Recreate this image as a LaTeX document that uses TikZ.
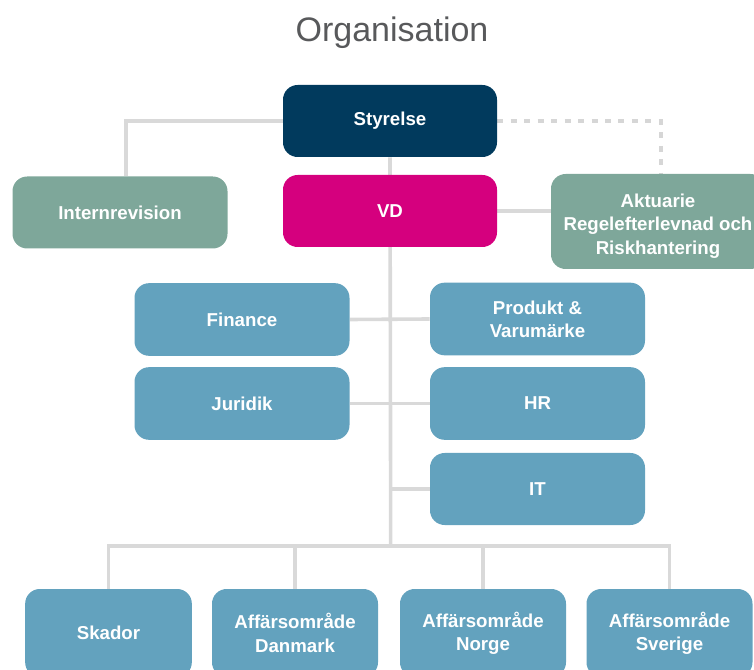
\documentclass[tikz,border=0pt]{standalone}
\usepackage{fontspec}
\setmainfont{Liberation Sans}
\usetikzlibrary{calc}
\definecolor{navy}{HTML}{013A5D}
\definecolor{magenta}{HTML}{D5007E}
\definecolor{sage}{HTML}{7EA79A}
\definecolor{steel}{HTML}{63A2BE}
\definecolor{linegray}{HTML}{D9D9D9}
\definecolor{dotgray}{HTML}{D6D6D6}
\definecolor{titlegray}{HTML}{58595B}
\pgfdeclarelayer{background}
\pgfsetlayers{background,main}
\tikzset{
  box/.style={rectangle, rounded corners=11pt, inner sep=0pt, align=center,
    text=white, font=\fontsize{14}{17.5}\selectfont\bfseries,
    minimum width=160.5pt, minimum height=54pt},
  boxtext/.style={inner sep=0pt, align=center, text=white,
    font=\fontsize{14}{17.5}\selectfont\bfseries},
  conn/.style={draw=linegray, line width=2.7pt},
  dotconn/.style={draw=dotgray, line width=3.4pt, dash pattern=on 4.5pt off 5.6pt},
}
\begin{document}
\begin{tikzpicture}[x=0.75pt,y=-0.75pt]
\useasboundingbox (0,0) rectangle (754,670);
\clip (0,0) rectangle (754,670);
\node[font=\fontsize{25.5}{30}\selectfont, text=titlegray] (title) at (392,33) {Organisation};
\node[box, fill=navy] (sty) at (390,121) {Styrelse};
\node[box, fill=magenta] (vd) at (390,211) {VD};
\node[box, fill=sage, minimum width=161.25pt] (int) at (120,212.5) {Internrevision};
\node[box, fill=sage, minimum height=71.25pt] (akt) at (658,221.5) {};
\node[boxtext] (akttext) at (658,226) {Aktuarie\\Regelefterlevnad och\\Riskhantering};
\node[box, fill=steel, minimum width=161.25pt, minimum height=54.5pt] (fin) at (242,319.5) {Finance};
\node[box, fill=steel, minimum width=161.25pt, minimum height=54.5pt] (prod) at (537.5,319) {Produkt \&\\Varumärke};
\node[box, fill=steel, minimum width=161.25pt, minimum height=54.5pt] (jur) at (242,403.5) {Juridik};
\node[box, fill=steel, minimum width=161.25pt, minimum height=54.5pt] (hr) at (537.5,403.5) {HR};
\node[box, fill=steel, minimum width=161.25pt] (it) at (537.5,489) {IT};
\node[box, fill=steel, minimum width=125pt, minimum height=66pt] (sk) at (108.5,633) {Skador};
\node[box, fill=steel, minimum width=124.5pt, minimum height=66pt] (dk) at (295,633) {Affärsområde\\Danmark};
\node[box, fill=steel, minimum width=124.5pt, minimum height=66pt] (no) at (483,633) {Affärsområde\\Norge};
\node[box, fill=steel, minimum width=124.5pt, minimum height=66pt] (sv) at (669.5,633) {Affärsområde\\Sverige};
\coordinate (bus) at (390.7,546);
\coordinate (intdrop) at ($(int.north)+(6,0)$);
\coordinate (aktdrop) at ($(akt.north)+(3,0)$);
\begin{pgfonlayer}{background}
  \draw[conn] (sty.west) -| (intdrop);
  \draw[dotconn] (sty.east) -| (aktdrop);
  \draw[conn] (sty.south) -- (bus);
  \draw[conn] (vd.east) -- (vd.east -| akt.west);
  \draw[conn] (fin.east) -- (prod.west);
  \draw[conn] (jur.east) -- (hr.west);
  \draw[conn] (it.west) -- (it.west -| bus);
  \draw[conn] (sk.north) -- (sk.north |- bus) -- (sv.north |- bus) -- (sv.north);
  \draw[conn] (dk.north) -- (dk.north |- bus);
  \draw[conn] (no.north) -- (no.north |- bus);
\end{pgfonlayer}
\end{tikzpicture}
\end{document}
